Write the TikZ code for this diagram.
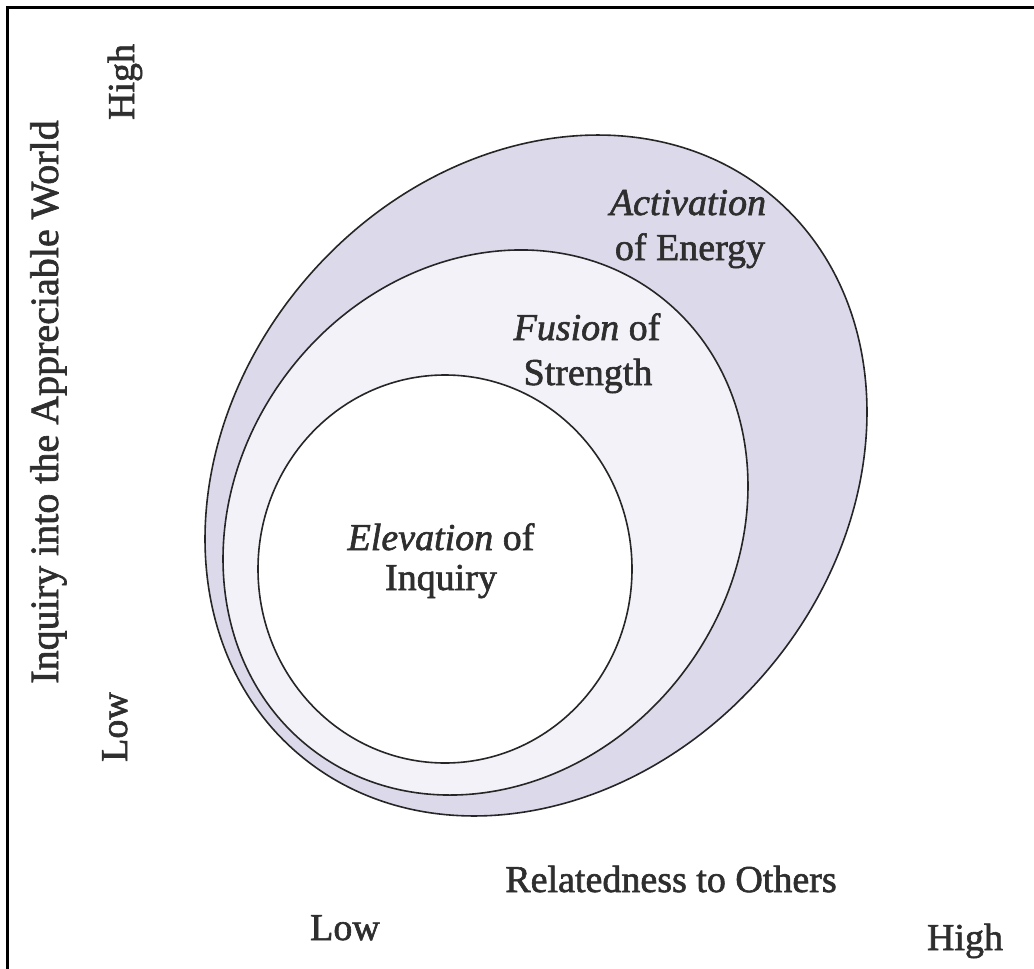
\documentclass[tikz,border=0pt]{standalone}
\usepackage{fontspec}
\setmainfont{Liberation Serif}
\newfontfamily\labfont[FakeBold=1.6]{Liberation Serif}
\definecolor{outerfill}{RGB}{220,218,234}
\definecolor{midfill}{RGB}{243,242,248}
\begin{document}
\begin{tikzpicture}[x=1pt,y=-1pt,
  ring/.style={draw=black!85,line width=1.6pt},
  lab/.style={inner sep=0pt,anchor=base,font=\labfont\fontsize{38}{40}\selectfont,text=black!82}]
\useasboundingbox (0,0) rectangle (1034,969);
\fill[white] (0,0) rectangle (1034,969);
% frame (top and left)
\draw[line width=3pt,black] (7.5,969) -- (7.5,7) -- (1034,7);
% outer egg
\draw[ring,fill=outerfill,rotate around={49.3:(536,475.5)}]
  (536,475.5) ellipse [x radius=366,y radius=302.5];
% middle egg
\draw[ring,fill=midfill,rotate around={52.8:(485.5,522.5)}]
  (485.5,522.5) ellipse [x radius=285.6,y radius=248.2];
% inner circle
\draw[ring,fill=white] (445,569) ellipse [x radius=187,y radius=194];
% labels
\node[lab] (act) at (688,215) {\itshape Activation};
\node[lab] (ene) at (690,260) {of Energy};
\node[lab] (fus) at (587,340) {\textit{Fusion} of};
\node[lab] (str) at (588,385) {Strength};
\node[lab] (ele) at (441,550) {\textit{Elevation} of};
\node[lab] (inq) at (441,590) {Inquiry};
% axes labels
\node[lab,font=\labfont\fontsize{40}{42}\selectfont] (yaxis) at (58,402) [rotate=90] {Inquiry into the Appreciable World};
\node[lab] (yhigh) at (134,82) [rotate=90] {High};
\node[lab] (ylow) at (127,727) [rotate=90] {Low};
\node[lab] (xaxis) at (671,892) {Relatedness to Others};
\node[lab] (xlow) at (345,940) {Low};
\node[lab] (xhigh) at (965,950) {High};
\end{tikzpicture}
\end{document}
